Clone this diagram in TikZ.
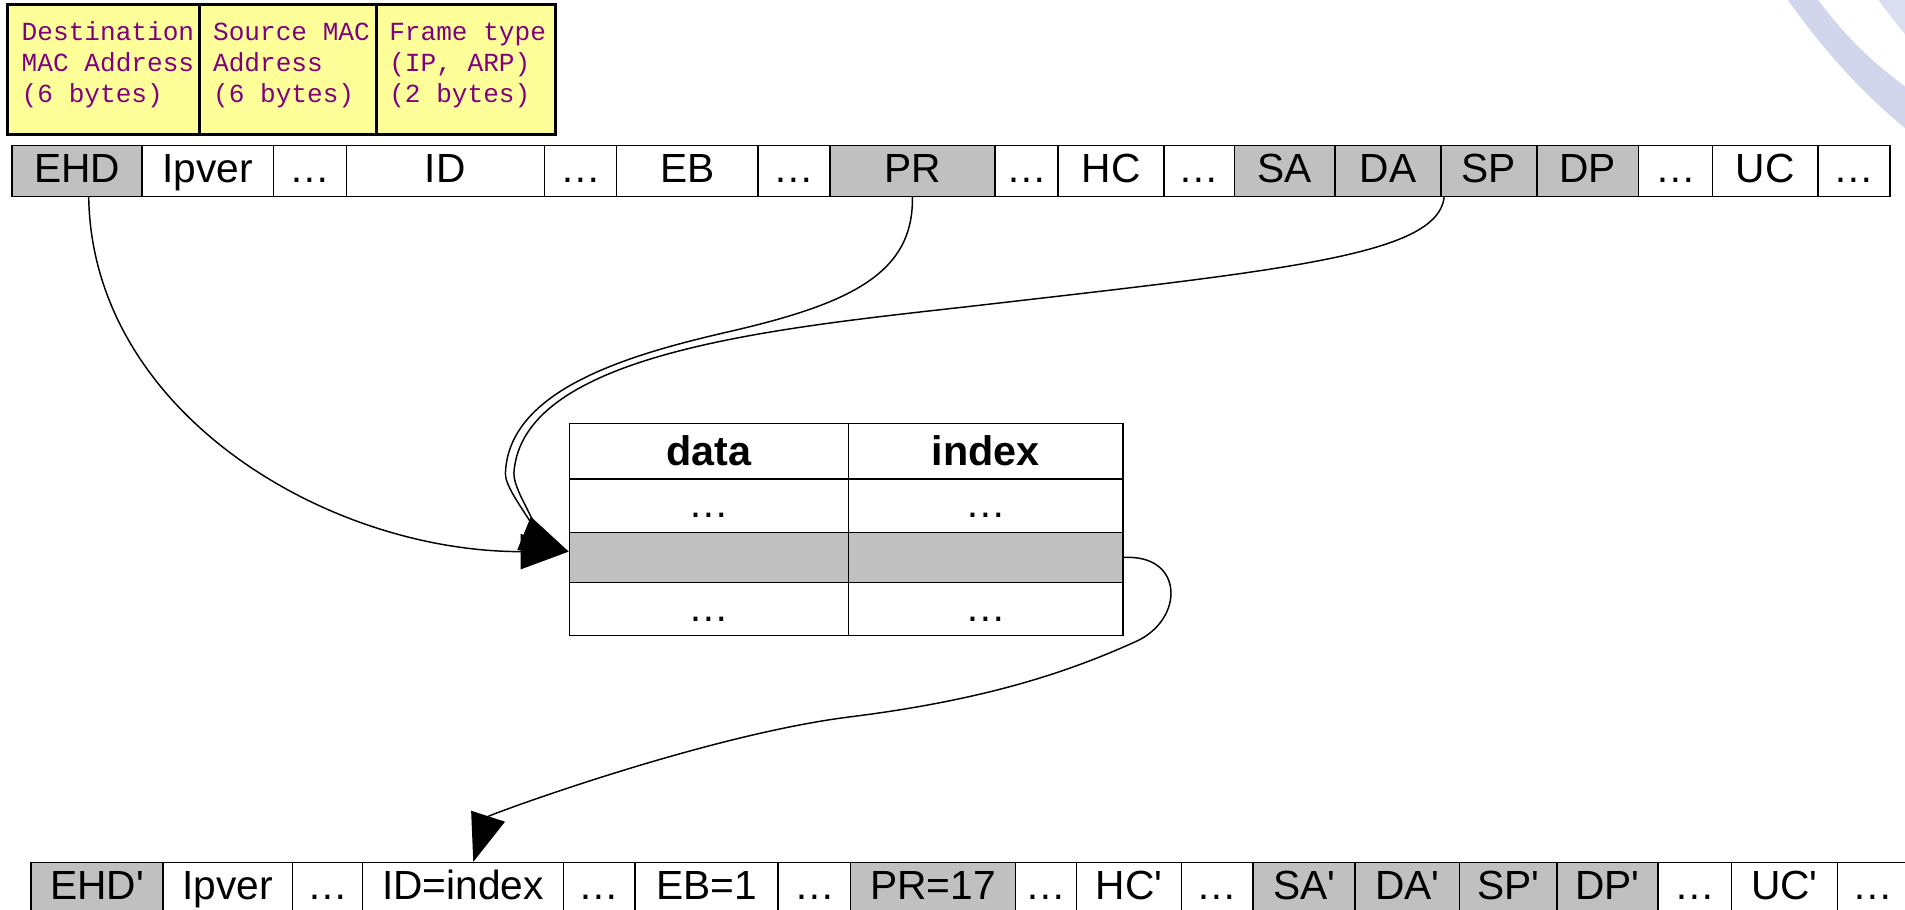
\documentclass[tikz,border=0pt]{standalone}
\usepackage{fontspec}
\setmainfont{Liberation Sans}
\newfontfamily\monofont{Liberation Mono}
\usetikzlibrary{arrows.meta}
\definecolor{cellgray}{RGB}{192,192,192}
\definecolor{noteyellow}{RGB}{255,255,153}
\definecolor{notetext}{RGB}{128,0,128}
\definecolor{decor}{RGB}{210,214,236}
\newcommand{\qmark}{\textquotesingle}
\begin{document}
\begin{tikzpicture}[x=0.5pt,y=-0.5pt,
  fieldbox/.style={draw, line width=0.6pt, inner sep=0pt, minimum height=21pt,
    text height=12.3pt, text depth=2.8pt, font=\fontsize{16.75pt}{20pt}\selectfont},
  tcell/.style={draw, line width=0.6pt, inner sep=0pt, text depth=2.8pt,
    font=\fontsize{16.75pt}{20pt}\selectfont},
  thead/.style={tcell, text height=14.5pt, font=\fontsize{17pt}{20pt}\selectfont\bfseries},
  notecell/.style={draw, line width=1.25pt, fill=noteyellow, inner sep=0pt, minimum height=53.5pt},
  notetxt/.style={anchor=base west, inner sep=0pt, text=notetext,
    font=\monofont\fontsize{10.75pt}{12pt}\selectfont},
  link/.style={line width=0.6pt, -{Triangle[length=19.75pt,width=14.5pt]}}]

\useasboundingbox (0,0) rectangle (1568,749);
\fill[white] (0,0) rectangle (1568,749);
\clip (0,0) rectangle (1568,749);

% decorative bands in the upper right corner
\fill[decor] (1471.6,0) .. controls (1500,40) and (1535,80) .. (1575,111)
  -- (1575,76) .. controls (1540,52) and (1515,25) .. (1496.5,0) -- cycle;
\fill[decor!80!white] (1546,0) .. controls (1553,9) and (1560,19) .. (1572,33) -- (1572,0) -- cycle;

% Ethernet header note
\node[notecell, minimum width=78.85pt] (dst) at (85.15,57.5) {};
\node[notecell, minimum width=73pt] (src) at (237,57.5) {};
\node[notecell, minimum width=73.8pt] (typ) at (383.8,57.5) {};
\node[notetxt] (dst1) at (17.5,33.5) {Destination};
\node[notetxt] (dst2) at (17.5,59) {MAC Address};
\node[notetxt] (dst3) at (17.5,84.5) {(6 bytes)};
\node[notetxt] (src1) at (175,33.5) {Source MAC};
\node[notetxt] (src2) at (175,59) {Address};
\node[notetxt] (src3) at (175,84.5) {(6 bytes)};
\node[notetxt] (typ1) at (320,33.5) {Frame type};
\node[notetxt] (typ2) at (320,59) {(IP, ARP)};
\node[notetxt] (typ3) at (320,84.5) {(2 bytes)};

% incoming packet fields
\foreach \l/\r/\lab/\f/\nm in {
  10/117/EHD/cellgray/ehd, 117/225/Ipver/white/ipv, 225/285/…/white/ta,
  285/448/ID/white/id, 448/507.5/…/white/tb, 507.5/624/EB/white/eb,
  624/683/…/white/tc, 683/819/PR/cellgray/pr, 819/871/…/white/td,
  871/958/HC/white/hc, 958/1016/…/white/te, 1016/1099/SA/cellgray/sa,
  1099/1186/DA/cellgray/da, 1186/1265/SP/cellgray/sp, 1265/1348.5/DP/cellgray/dp,
  1348.5/1409.5/…/white/tf, 1409.5/1496.5/UC/white/uc, 1496.5/1555.5/…/white/tg}
  \node[fieldbox, fill=\f, minimum width={(\r-\l)*0.5pt}] (\nm) at ({(\l+\r)/2},140.75) {\lab};

% outgoing packet fields
\foreach \l/\r/\lab/\f/\nm in {
  25.7/134/EHD\qmark/cellgray/ehdb, 134/240.6/Ipver/white/ipvb, 240.6/298.4/…/white/ba,
  298.4/463.7/ID=index/white/idx, 463.7/522.5/…/white/bb, 522.5/640.4/EB=1/white/ebb,
  640.4/700.2/…/white/bc, 700.2/835.7/PR=17/cellgray/prb, 835.7/886/…/white/bd,
  886/972.4/HC\qmark/white/hcb, 972.4/1031.5/…/white/be, 1031.5/1115.3/SA\qmark/cellgray/sab,
  1115.3/1201.2/DA\qmark/cellgray/dab, 1201.2/1281.6/SP\qmark/cellgray/spb,
  1281.6/1364.5/DP\qmark/cellgray/dpb, 1364.5/1425.3/…/white/bf,
  1425.3/1512.2/UC\qmark/white/ucb, 1512.2/1571/…/white/bg}
  \node[fieldbox, fill=\f, minimum width={(\r-\l)*0.5pt}] (\nm) at ({(\l+\r)/2},731) {\lab};

% lookup table
\node[thead, minimum width=114.8pt, minimum height=22.9pt] (hd) at (583.4,371.3) {data};
\node[thead, minimum width=113pt, minimum height=22.9pt] (hi) at (811.2,371.3) {index};
\node[tcell, text height=13pt, minimum width=114.8pt, minimum height=21.95pt] (ra) at (583.4,416.15) {…};
\node[tcell, text height=13pt, minimum width=113pt, minimum height=21.95pt] (rb) at (811.2,416.15) {…};
\node[tcell, fill=cellgray, minimum width=114.8pt, minimum height=20.75pt] (g1) at (583.4,458.85) {};
\node[tcell, fill=cellgray, minimum width=113pt, minimum height=20.75pt] (g2) at (811.2,458.85) {};
\node[tcell, text height=13pt, minimum width=114.8pt, minimum height=21.8pt] (sa3) at (583.4,501.4) {…};
\node[tcell, text height=13pt, minimum width=113pt, minimum height=21.8pt] (sb3) at (811.2,501.4) {…};

\coordinate (hit) at ([yshift=2.4pt]g1.west);
\coordinate (idxtop) at ([xshift=4.25pt]idx.north);

% connectors
\draw[link] (pr.south) .. controls (752,225) and (700,250) .. (600,273)
  .. controls (520,291.4) and (418,320) .. (416,390)
  .. controls (416,408) and (458.7,450.25) .. (hit);
\draw[link] ([xshift=1.65pt]sp.south west) .. controls (1183,210) and (1060,222) .. (800,252)
  .. controls (640,270) and (430,290) .. (423,389)
  .. controls (422,408) and (458.7,450.25) .. (hit);
\draw[link] ([xshift=4.75pt]ehd.south) .. controls (76,340) and (269.5,454) .. (hit);
\draw[link] (g2.east) .. controls (975,456) and (975,510) .. (935,528)
  .. controls (887,549.6) and (820,575) .. (700,590)
  .. controls (580,605) and (402,671) .. (idxtop);
\end{tikzpicture}
\end{document}
